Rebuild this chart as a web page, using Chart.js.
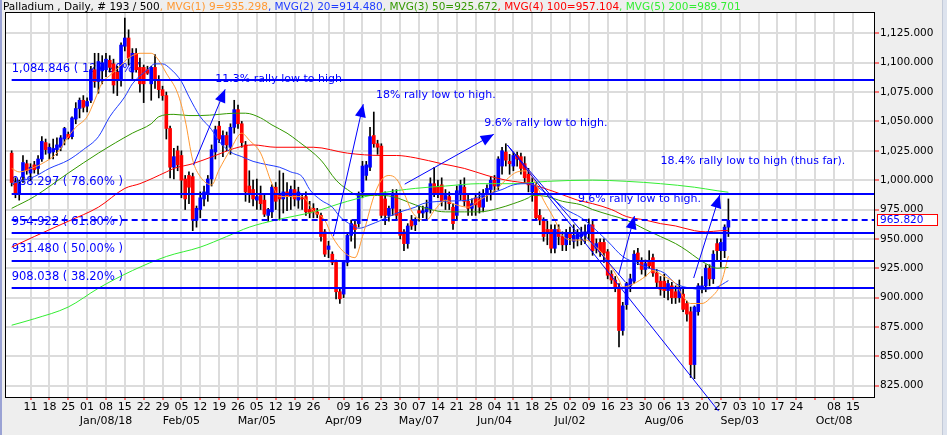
<!DOCTYPE html>
<html lang="en">
<head>
<meta charset="UTF-8">
<title>Palladium Daily</title>
<style>
  html, body { margin: 0; padding: 0; background: #eeeeee; overflow: hidden; }
  #wrap { width: 947px; height: 435px; }
</style>
</head>
<body>
<div id="wrap"><canvas id="chart" width="947" height="435"></canvas></div>
<script src="https://cdn.jsdelivr.net/npm/chart.js"></script>
<script>
// daily candles [open, high, low, close], Dec 04 2017 .. end Aug 2018 (Easter days skipped)
const candles = [
  [1023,1025,995,998],[998,1002,985,989],[988,1000,983,997],[1003,1021,998,1015],[1014,1017,1005,1008],
  [1006,1014,1000,1011],[1013,1016,1006,1009],[1010,1021,1005,1018],[1018,1037,1016,1033],[1032,1035,1022,1026],
  [1023,1031,1018,1028],[1024,1035,1018,1027],[1026,1036,1021,1030],[1028,1038,1025,1036],[1035,1045,1030,1044],
  [1039,1041,1035,1036],[1037,1054,1035,1053],[1052,1066,1048,1061],[1061,1070,1053,1068],[1068,1072,1058,1062],
  [1063,1070,1058,1067],[1068,1097,1066,1094],[1094,1108,1079,1084],[1084,1108,1074,1101],[1093,1106,1082,1100],
  [1094,1108,1088,1103],[1102,1106,1092,1096],[1099,1103,1074,1081],[1092,1097,1072,1085],[1085,1117,1080,1115],
  [1114,1138,1110,1121],[1121,1128,1098,1104],[1092,1112,1086,1108],[1108,1112,1092,1094],[1096,1104,1075,1082],
  [1096,1098,1066,1082],[1094,1097,1090,1091],[1082,1097,1068,1096],[1096,1107,1078,1085],[1085,1089,1070,1077],
  [1077,1080,1068,1072],[1072,1075,1035,1044],[1044,1046,1002,1011],[1011,1027,1001,1020],[1025,1029,1008,1013],
  [1021,1025,985,1000],[1001,1004,975,984],[1004,1007,980,994],[1003,1006,957,966],[966,978,960,976],
  [975,990,968,985],[984,995,978,990],[988,1004,982,1001],[1001,1030,995,1026],[1024,1046,1018,1043],
  [1046,1050,1032,1035],[1030,1042,1020,1038],[1038,1041,1025,1030],[1028,1048,1022,1045],[1045,1068,1040,1060],
  [1060,1064,1044,1048],[1048,1050,1028,1032],[1030,1033,982,990],[995,1008,981,989],[992,1000,978,984],
  [983,1001,975,986],[987,995,975,980],[983,988,969,971],[970,976,965,975],[973,996,968,994],
  [994,998,975,982],[988,1008,966,984],[984,1006,972,990],[990,998,974,986],[986,995,975,992],
  [992,1000,978,984],[983,994,976,990],[985,988,975,984],[986,990,970,973],[975,982,968,972],
  [976,980,968,973],[973,976,968,971],[970,972,948,952],[956,958,935,937],
  [941,948,934,944],[937,939,928,930],[930,932,899,905],[905,907,895,899],
  [903,931,900,930],[930,955,927,953],[953,966,948,963],[962,965,942,958],[963,990,960,987],
  [990,1016,985,1012],[1004,1016,1000,1013],[1011,1045,1008,1037],[1038,1058,1028,1031],[1031,1034,1022,1028],
  [1029,1031,968,970],[984,990,962,970],[970,978,965,976],[976,992,970,989],[988,992,966,970],
  [972,975,950,953],[956,958,940,946],[946,963,942,961],[966,970,958,961],[962,968,957,966],
  [974,978,965,972],[972,978,968,974],[973,983,966,977],[975,1002,972,997],[997,1011,986,989],
  [994,1000,985,989],[996,1002,978,982],[983,992,975,987],[986,990,975,980],[977,980,958,963],
  [970,995,966,991],[988,1000,983,996],[994,1002,978,982],[982,988,970,976],[976,984,970,980],
  [985,988,970,979],[984,990,972,977],[977,992,973,987],[989,996,982,993],[992,1003,983,1000],
  [1000,1004,990,995],[995,1020,992,1018],[1012,1028,1005,1025],[1024,1031,1012,1017],[1016,1022,1005,1014],
  [1012,1024,1008,1021],[1021,1024,1012,1018],[1020,1023,1005,1010],[1014,1020,998,1002],[1005,1010,990,996],
  [990,1002,982,998],[995,998,966,968],[970,975,962,966],[965,968,948,952],[958,965,945,955],
  [958,962,938,942],[942,962,938,958],[958,962,945,952],[952,956,940,945],[945,958,940,954],
  [954,960,945,951],[948,962,942,953],[950,958,944,955],[952,960,945,954],[953,962,946,956],
  [955,967,949,962],[962,966,936,940],[942,950,938,946],[947,950,935,939],[947,950,930,938],
  [939,941,916,919],[920,923,912,915],[915,918,905,909],[909,912,858,872],[872,896,868,893],
  [894,913,890,912],[910,920,905,916],[914,940,912,937],[938,942,928,931],[931,934,920,924],
  [924,932,918,929],[930,940,925,927],[934,937,918,921],[921,924,908,913],[914,918,902,907],
  [914,920,900,906],[906,915,898,912],[910,913,895,900],[905,910,895,900],[900,915,896,907],
  [903,908,888,890],[895,897,880,886],[888,892,832,843],[843,893,831,892],[888,912,885,910],
  [908,918,904,910],[910,928,905,925],[925,928,910,916],[916,940,912,937],[946,950,932,940],
  [940,950,926,947],[940,962,934,960],[960,984,952,965.82]
];

// moving averages, [day index, value]
const ma9 = [[0,1010],[2,1007],[6,1011],[8,1014],[12,1023],[15,1037],[17,1045],[20,1054],[22,1068],[24,1083],
  [26,1089],[29,1098],[31,1104],[34,1108],[37,1108],[39,1102],[41,1091],[44,1074],[46,1051],[48,1017],[50,1003],
  [53,996],[55,1009],[58,1026],[61,1040],[63,1034],[66,1023],[69,997],[71,986],[77,986],[80,974],[83,966],[85,952],
  [88,939],[91,934],[93,952],[96,986],[98,1000],[100,1004],[102,1001],[104,989],[106,974],[108,967],[110,966],
  [112,974],[115,983],[117,980],[121,977],[124,983],[128,991],[131,1000],[134,1007],[137,1008],[138,1003],
  [141,983],[144,966],[146,953],[149,949],[152,949],[155,943],[158,931],[161,915],[162,909],[165,912],[168,918],
  [170,923],[173,918],[176,912],[178,901],[180,895],[183,895],[185,899],[188,912],[190,935.3]];
const ma20 = [[0,997],[6,1003],[10,1010],[15,1017],[19,1026],[23,1037],[26,1054],[30,1071],[32,1082],[36,1094],
  [38,1099],[40,1099],[42,1095],[45,1084],[47,1071],[50,1054],[53,1043],[55,1033],[58,1024],[61,1020],[64,1016],
  [68,1013],[71,1011],[74,1007],[77,1003],[79,992],[82,983],[85,977],[87,969],[90,962],[92,959],[95,962],[98,966],
  [100,969],[103,973],[107,977],[109,980],[114,982],[121,983],[124,986],[130,992],[133,996],[137,997],[142,988],
  [147,975],[151,968],[153,963],[158,948],[162,935],[166,929],[169,925],[173,921],[176,912],[180,908],[183,907],
  [187,909],[190,914.5]];
const ma50 = [[0,976],[6,986],[15,1006],[23,1023],[32,1040],[37,1048],[39,1054],[43,1056],[47,1055],[50,1055],
  [55,1056],[59,1057],[62,1057],[66,1053],[69,1047],[73,1040],[76,1033],[82,1017],[86,1000],[89,992],[92,987],
  [97,987],[101,986],[107,979],[111,975],[115,973],[120,973],[124,973],[129,976],[133,980],[137,985],[138,987],
  [142,986],[146,982],[151,979],[154,975],[159,970],[163,966],[168,958],[172,952],[176,946],[179,940],[182,933],
  [184,929],[187,925],[190,925.7]];
const ma100 = [[0,943],[6,952],[15,965],[23,977],[30,993],[34,997],[41,1007],[43,1010],[48,1014],[54,1021],
  [59,1027],[64,1030],[70,1028],[80,1028],[89,1023],[98,1021],[102,1021],[107,1019],[114,1014],[120,1010],
  [126,1004],[131,1000],[137,997],[144,990],[150,983],[154,980],[159,975],[163,969],[168,966],[172,963],
  [176,961],[181,957],[184,956],[188,957],[190,957.1]];
const ma200 = [[0,876.5],[6,882],[15,892],[23,908],[32,923],[41,935],[50,943],[57,952],[63,960],[70,966],
  [80,973],[89,982],[98,989],[107,993],[115,995],[124,997],[133,997],[142,999],[154,1000],[163,999],[172,997],
  [181,994],[187,991],[190,989.7]];

const maSeries = [ma9, ma20, ma50, ma100, ma200];
const maNames = [', MVG(1) 9=935.298', ', MVG(2) 20=914.480', ', MVG(3) 50=925.672', ', MVG(4) 100=957.104', ', MVG(5) 200=989.701'];
const maColors = ['#ff9933', '#1f3cff', '#339900', '#ff0000', '#33ee33'];
const chartTitle = 'Palladium , Daily, # 193 / 500';

const fibLevels = [1084.846, 988.297, 954.922, 931.480, 908.038];
const fibPercents = ['127.20%', '78.60%', '61.80%', '50.00%', '38.20%'];
const lastPrice = 965.82;

// arrows [fromDay, fromPrice, toDay, toPrice], trend lines the same, notes [text, day, price]
const arrows = [[48.2,1012.8,56.6,1077.3],[85.3,952.3,93.2,1064.7],[104.2,996.6,127.8,1039],
  [160.9,919.2,165.1,969.4],[180.8,916.7,187.7,987.4]];
const trendLines = [[131.4,1029.9,162.7,913.2],[131.4,1029.9,187.4,803.4]];
const notes = [['11.3% rally low to high',54,1086],['18% rally low to high.',96.6,1072.4],
  ['9.6% rally low to high.',125.3,1048.8],['18.4% rally low to high (thus far).',172,1016],
  ['9.6% rally low to high.',150.1,983.9]];

const priceTicks = [825,837.5,850,862.5,875,887.5,900,912.5,925,937.5,950,962.5,975,987.5,1000,1012.5,1025,
  1037.5,1050,1062.5,1075,1087.5,1100,1112.5,1125,1137.5];
const weekTickIdx = [5,10,15,20,25,30,35,40,45,50,55,60,65,70,75,80,84,88,93,98,103,108,113,118,123,128,133,138,
  143,148,153,158,163,168,173,178,183,188,193,198,203,208,213,218,223];
const weekTickDay = ['11','18','25','01','08','15','22','29','05','12','19','26','05','12','19','26','','09','16',
  '23','30','07','14','21','28','04','11','18','25','02','09','16','23','30','06','13','20','27','03','10','17',
  '24','','08','15'];
const monthTickIdx = [25,45,65,88,108,128,148,173,193,218];
const monthNames = ['Jan/08/18','Feb/05','Mar/05','Apr/09','May/07','Jun/04','Jul/02','Aug/06','Sep/03','Oct/08'];

const FONT = "'DejaVu Sans', sans-serif";
const fmt = v => v.toLocaleString('en-US', { minimumFractionDigits: 3, maximumFractionDigits: 3 });

function arrowHead(c, x0, y0, x1, y1) {
  const ang = Math.atan2(y1 - y0, x1 - x0), len = 13, half = 5.5;
  const bx = x1 - Math.cos(ang) * len, by = y1 - Math.sin(ang) * len;
  c.beginPath();
  c.moveTo(x1, y1);
  c.lineTo(bx + Math.sin(ang) * half, by - Math.cos(ang) * half);
  c.lineTo(bx - Math.sin(ang) * half, by + Math.cos(ang) * half);
  c.closePath();
  c.fill();
}

const overlay = {
  id: 'overlay',
  beforeDraw(chart) {
    const c = chart.ctx, a = chart.chartArea;
    c.save();
    c.fillStyle = '#eeeeee';
    c.fillRect(0, 0, chart.width, chart.height);
    c.fillStyle = '#ffffff';
    c.fillRect(a.left, a.top, a.right - a.left, a.bottom - a.top);
    c.restore();
  },
  beforeDatasetsDraw(chart) {
    // level captions sit under the candles
    const c = chart.ctx, xs = chart.scales.x, ys = chart.scales.y;
    c.save();
    c.font = '11.5px ' + FONT;
    c.fillStyle = '#0000ff';
    c.textBaseline = 'middle';
    fibLevels.forEach((lv, k) => {
      c.fillText(fmt(lv) + ' ( ' + fibPercents[k] + ' )', xs.getPixelForValue(0), ys.getPixelForValue(lv) - 11.5);
    });
    c.restore();
  },
  afterDatasetsDraw(chart) {
    const c = chart.ctx, a = chart.chartArea, xs = chart.scales.x, ys = chart.scales.y;
    const x0 = xs.getPixelForValue(0);
    c.save();
    c.strokeStyle = '#0000ff';
    c.fillStyle = '#0000ff';
    // retracement levels
    c.lineWidth = 2;
    fibLevels.forEach(lv => {
      const py = Math.round(ys.getPixelForValue(lv));
      c.beginPath(); c.moveTo(x0, py); c.lineTo(a.right, py); c.stroke();
    });
    // last price
    const pl = Math.round(ys.getPixelForValue(lastPrice));
    c.setLineDash([6, 4]);
    c.beginPath(); c.moveTo(x0, pl); c.lineTo(a.right, pl); c.stroke();
    c.setLineDash([]);
    // trend lines and arrows
    c.lineWidth = 1;
    trendLines.forEach(t => {
      c.beginPath();
      c.moveTo(xs.getPixelForValue(t[0]), ys.getPixelForValue(t[1]));
      c.lineTo(xs.getPixelForValue(t[2]), ys.getPixelForValue(t[3]));
      c.stroke();
    });
    arrows.forEach(t => {
      const ax = xs.getPixelForValue(t[0]), ay = ys.getPixelForValue(t[1]);
      const bx = xs.getPixelForValue(t[2]), by = ys.getPixelForValue(t[3]);
      c.beginPath(); c.moveTo(ax, ay); c.lineTo(bx, by); c.stroke();
      arrowHead(c, ax, ay, bx, by);
    });
    c.font = '11px ' + FONT;
    c.textBaseline = 'middle';
    notes.forEach(n => c.fillText(n[0], xs.getPixelForValue(n[1]), ys.getPixelForValue(n[2])));
    c.restore();
  },
  afterDraw(chart) {
    const c = chart.ctx, a = chart.chartArea, ys = chart.scales.y;
    c.save();
    // frame
    c.strokeStyle = '#000000';
    c.lineWidth = 1;
    c.strokeRect(a.left - 0.5, a.top - 0.5, a.right - a.left + 1, a.bottom - a.top + 1);
    // title line
    c.font = '10.5px ' + FONT;
    c.textBaseline = 'middle';
    let tx = 3;
    c.fillStyle = '#000000';
    c.fillText(chartTitle, tx, 7);
    tx += c.measureText(chartTitle).width;
    maNames.forEach((s, k) => {
      c.fillStyle = maColors[k];
      c.fillText(s, tx, 7);
      tx += c.measureText(s).width;
    });
    // last price tag
    const py = Math.round(ys.getPixelForValue(lastPrice));
    c.fillStyle = '#ffffff';
    c.fillRect(877, py - 5, 61, 11);
    c.strokeStyle = '#ff0000';
    c.strokeRect(877.5, py - 5.5, 60, 11);
    c.fillStyle = '#0000ff';
    c.fillText(fmt(lastPrice), 880, py + 0.5);
    // window edges
    c.fillStyle = '#9aa2d4';
    c.fillRect(0, 0, 2, chart.height);
    c.fillStyle = '#dde3ee';
    c.fillRect(942, 0, 5, chart.height);
    c.fillStyle = '#c3cad8';
    c.fillRect(942, 0, 1, chart.height);
    c.restore();
  }
};

const lineSets = maSeries.map((s, k) => ({
  type: 'line',
  data: s.map(p => ({ x: p[0], y: p[1] })),
  borderColor: maColors[k],
  borderWidth: 1,
  pointRadius: 0,
  fill: false,
  cubicInterpolationMode: 'monotone',
  order: 0
}));

const ctx = document.getElementById('chart').getContext('2d');
const chart = new Chart(ctx, {
  type: 'bar',
  data: {
    datasets: lineSets.concat([
      {
        data: candles.map((c, i) => ({ x: i, y: [c[1], c[3] > c[0] ? c[3] : c[0]] })),
        backgroundColor: '#000000',
        grouped: false, barPercentage: 1, categoryPercentage: 1, maxBarThickness: 1,
        order: 2
      },
      {
        data: candles.map((c, i) => ({ x: i, y: [c[2], c[3] < c[0] ? c[3] : c[0]] })),
        backgroundColor: '#000000',
        grouped: false, barPercentage: 1, categoryPercentage: 1, maxBarThickness: 1,
        order: 2
      },
      {
        data: candles.map((c, i) => ({ x: i, y: [c[0], c[3]] })),
        backgroundColor: candles.map(c => c[3] >= c[0] ? '#0000ff' : '#ff0000'),
        grouped: false, barPercentage: 1, categoryPercentage: 1, maxBarThickness: 3,
        order: 1
      }
    ])
  },
  options: {
    responsive: false,
    animation: false,
    events: [],
    layout: { padding: { left: 6, top: 13, right: 0, bottom: 0 } },
    plugins: { legend: { display: false }, tooltip: { enabled: false } },
    scales: {
      x: {
        type: 'linear',
        min: -1.5,
        max: 228.6,
        offset: false,
        afterBuildTicks: s => { s.ticks = weekTickIdx.map(v => ({ value: v })); },
        afterFit: s => { s.height = 38; },
        grid: { color: '#dcdcdc', lineWidth: 2, offset: false, tickColor: '#ff0000', tickWidth: 1, tickLength: 3 },
        border: { color: '#000000', width: 1 },
        ticks: {
          autoSkip: false, maxRotation: 0, padding: 0, color: '#000000',
          font: { family: FONT, size: 11, lineHeight: 1.3 },
          callback: v => {
            const k = weekTickIdx.indexOf(v), m = monthTickIdx.indexOf(v);
            const d = k >= 0 ? weekTickDay[k] : '';
            return m >= 0 ? [d, monthNames[m]] : d;
          }
        }
      },
      y: {
        position: 'right',
        min: 815.4,
        max: 1142.3,
        afterBuildTicks: s => { s.ticks = priceTicks.map(v => ({ value: v })); },
        afterFit: s => { s.width = 73; },
        grid: {
          color: '#dcdcdc', lineWidth: 2, tickWidth: 1, tickLength: 5,
          tickColor: c => (c.tick && c.tick.value % 25 === 0) ? '#ff0000' : 'rgba(0,0,0,0)'
        },
        border: { color: '#000000', width: 1 },
        ticks: {
          padding: 1, color: '#000000',
          font: { family: FONT, size: 10.5 },
          callback: v => v % 25 === 0 ? fmt(v) : ''
        }
      }
    }
  },
  plugins: [overlay]
});
</script>
</body>
</html>
